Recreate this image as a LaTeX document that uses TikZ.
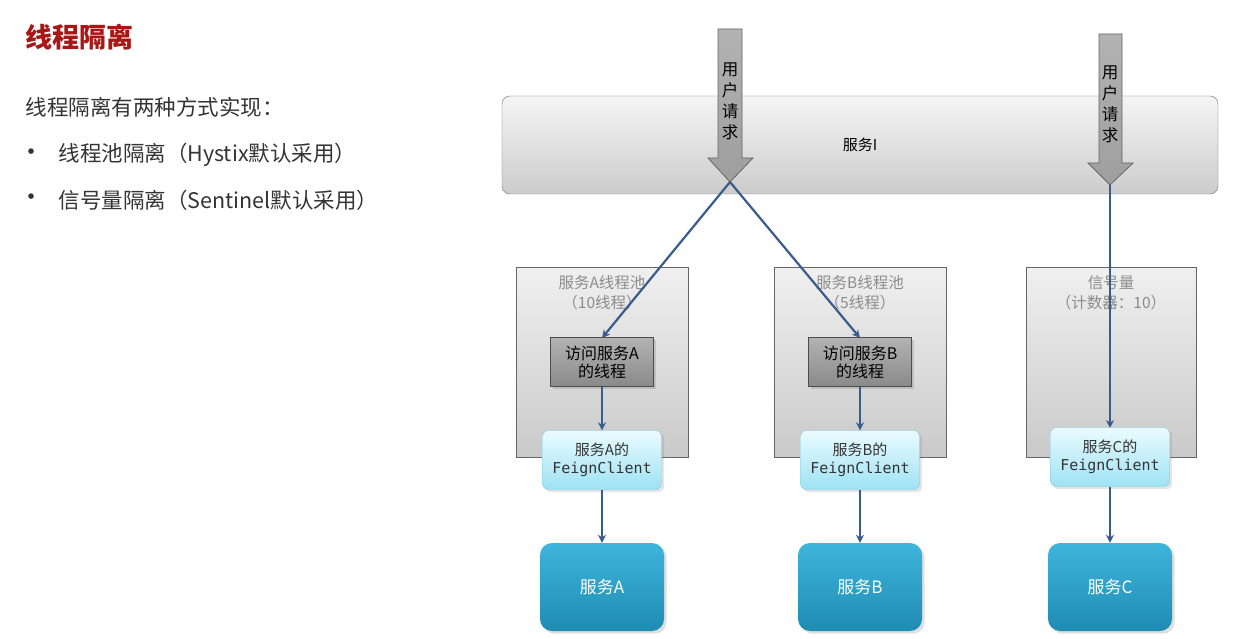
\documentclass[tikz,border=0pt]{standalone}
\usepackage{fontspec}
\setmainfont{Noto Sans CJK SC}
\newfontfamily\feignmono{DejaVu Sans Mono}
\usetikzlibrary{positioning,arrows.meta,shadows}

\definecolor{titlered}{RGB}{168,22,22}
\definecolor{bodygray}{RGB}{52,52,52}
\definecolor{linkblue}{RGB}{58,92,140}
\definecolor{poolgray}{RGB}{140,140,140}
\definecolor{feignedge}{RGB}{128,198,222}
\definecolor{feigntop}{RGB}{234,251,255}
\definecolor{feignbot}{RGB}{158,226,244}
\definecolor{svctop}{RGB}{62,181,220}
\definecolor{svcbot}{RGB}{31,140,178}

\tikzset{
  svcbar/.style={draw=black!55, rounded corners=8pt, top color=black!4, bottom color=black!20,
    minimum width=716pt, minimum height=98pt, font=\fontsize{15}{18}\selectfont},
  reqarrow/.style={draw=black!60, top color=black!30, bottom color=black!38, line width=0.8pt},
  reqtext/.style={align=center, font=\fontsize{16.5}{21}\selectfont},
  pool/.style={draw=black!60, top color=black!6, bottom color=black!21,
    minimum width=172pt, minimum height=190pt, line width=0.8pt},
  poollabel/.style={align=center, text=poolgray, font=\fontsize{15.5}{20}\selectfont},
  thread/.style={draw=black!70, top color=black!30, bottom color=black!46, minimum width=103pt,
    minimum height=49pt, align=center, font=\fontsize{16}{18}\selectfont, drop shadow={opacity=0.3}},
  feign/.style={draw=feignedge, rounded corners=6pt, top color=feigntop, bottom color=feignbot,
    minimum width=119pt, minimum height=59pt, align=center, text=bodygray,
    font=\fontsize{15}{18}\selectfont, drop shadow={opacity=0.2}},
  service/.style={rounded corners=12pt, top color=svctop, bottom color=svcbot, minimum width=124pt,
    minimum height=88pt, text=white, font=\fontsize{17}{20}\selectfont, drop shadow={opacity=0.25}},
  link/.style={draw=linkblue, line width=2.2pt, -{Stealth[length=8pt,width=8pt]}}
}

\begin{document}
\begin{tikzpicture}[x=1pt,y=-1pt]
\useasboundingbox[fill=white] (0,0) rectangle (1234,639);

% left side: heading and the two ways
\node[anchor=west, text=titlered, font=\fontsize{27}{30}\selectfont\bfseries] (title) at (22,37) {线程隔离};
\node[anchor=west, text=bodygray, font=\fontsize{21.5}{24}\selectfont] (intro) at (22,107) {线程隔离有两种方式实现：};
\node[text=bodygray, font=\fontsize{26}{28}\selectfont] (dot1) at (31,155) {•};
\node[anchor=west, text=bodygray, font=\fontsize{21.5}{24}\selectfont] (way1) at (55,155) {线程池隔离（Hystix默认采用）};
\node[text=bodygray, font=\fontsize{26}{28}\selectfont] (dot2) at (31,200) {•};
\node[anchor=west, text=bodygray, font=\fontsize{21.5}{24}\selectfont] (way2) at (55,200) {信号量隔离（Sentinel默认采用）};

% the calling service
\node[svcbar] (svcI) at (860,145) {服务I};

% the two user requests coming in
\draw[reqarrow] (718,29) -- (742,29) -- (742,158) -- (753,158) -- (730,182) coordinate (tipA)
   -- (708,158) -- (718,158) -- cycle;
\node[reqtext] (reqA) at (730,101) {用\\户\\请\\求};
\draw[reqarrow] (1099,34) -- (1122,34) -- (1122,163) -- (1133,163) -- (1110,185) coordinate (tipC)
   -- (1088,163) -- (1099,163) -- cycle;
\node[reqtext] (reqC) at (1110,104) {用\\户\\请\\求};

% thread pools and the semaphore
\node[pool] (poolA) at (602,362) {};
\node[pool] (poolB) at (860,362) {};
\node[pool, minimum width=170pt] (poolC) at (1111,362) {};
\node[poollabel, anchor=north] (labA) at ([yshift=-5pt]poolA.north) {服务A线程池\\（10线程）};
\node[poollabel, anchor=north] (labB) at ([yshift=-5pt]poolB.north) {服务B线程池\\（5线程）};
\node[poollabel, anchor=north] (labC) at ([yshift=-5pt]poolC.north) {信号量\\（计数器：10）};

% calls out of service I
\draw[link] (tipA) -- (602,338);
\draw[link] (tipA) -- (860,338);
\draw[link] (tipC) -- (1110,428);

\node[thread] (thrA) at (602,362) {访问服务A\\的线程};
\node[thread] (thrB) at (860,362) {访问服务B\\的线程};

\node[feign] (feignA) at (602,460) {服务A的\\{\feignmono FeignClient}};
\node[feign] (feignB) at (860,460) {服务B的\\{\feignmono FeignClient}};
\node[feign] (feignC) at (1110,457) {服务C的\\{\feignmono FeignClient}};

\node[service] (svcA) at (602,587) {服务A};
\node[service] (svcB) at (860,587) {服务B};
\node[service] (svcC) at (1110,587) {服务C};

\draw[link] (thrA) -- (feignA);
\draw[link] (thrB) -- (feignB);
\draw[link] (feignA) -- (svcA);
\draw[link] (feignB) -- (svcB);
\draw[link] (feignC) -- (svcC);
\end{tikzpicture}
\end{document}
